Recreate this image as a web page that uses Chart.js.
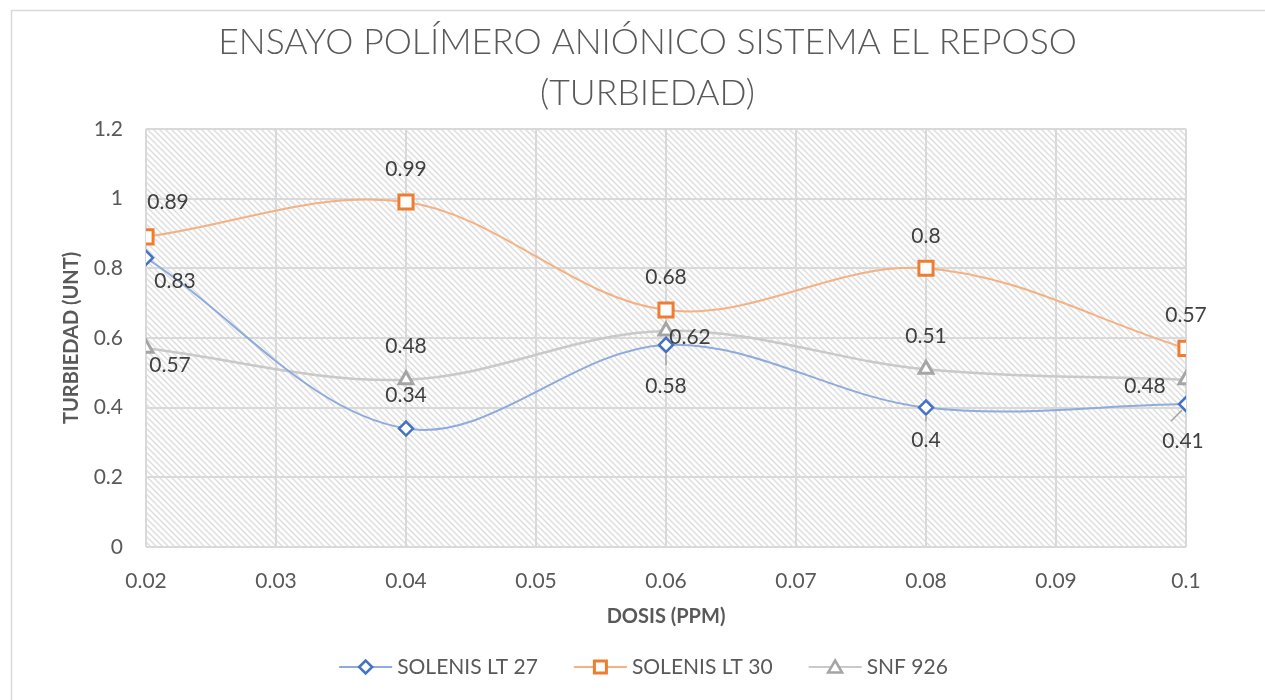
<!DOCTYPE html>
<html>
<head>
<meta charset="utf-8">
<script src="https://cdn.jsdelivr.net/npm/chart.js@4"></script>
<style>
  html, body { margin: 0; padding: 0; background: #fff; }
  #wrap { width: 1265px; height: 700px; position: relative; }
</style>
</head>
<body>
<div id="wrap"><canvas id="turbChart"></canvas></div>
<script>
// Datos
const dosis = [0.02, 0.04, 0.06, 0.08, 0.1];
const solenisLT27 = [0.83, 0.34, 0.58, 0.40, 0.41];
const solenisLT30 = [0.89, 0.99, 0.68, 0.80, 0.57];
const snf926 = [0.57, 0.48, 0.62, 0.51, 0.48];
const seriesNames = ['SOLENIS LT 27', 'SOLENIS LT 30', 'SNF 926'];
const xTicks = [0.02, 0.03, 0.04, 0.05, 0.06, 0.07, 0.08, 0.09, 0.1];

// where each data label sits relative to its point (dx, dy), and leader lines
const labelOffsets = [
    [[29, 23], [0, -33], [0, 41], [0, 33], [-3, 37]],
    [[22, -35], [0, -33], [0, -33], [0, -32], [0, -33]],
    [[24, 17], [0, -33], [24, 6], [0, -33], [-41, 7]]
];
const leaders = [
    [null, null, [0, 8, 0, 20], [0, 8, 0, 14], [-4, 6, -15, 17]],
    [null, null, null, null, null],
    [null, null, null, null, null]
];

const FONT = 'Lato, "Open Sans", sans-serif';
const GREY_TXT = '#595959';
const lineColors = ['#8faadc', '#f4b183', '#c9c9c9'];
const markColors = ['#4472c4', '#ed7d31', '#a5a5a5'];
const markStyles = ['rectRot', 'rect', 'triangle'];

function toXY(values) {
    return values.map((v, i) => ({ x: dosis[i], y: v }));
}

// hatched background for the plot area
function makeHatch() {
    const c = document.createElement('canvas');
    c.width = 6; c.height = 6;
    const g = c.getContext('2d');
    g.strokeStyle = '#dedede';
    g.lineWidth = 1.5;
    for (let k = -6; k <= 6; k += 6) {
        g.beginPath();
        g.moveTo(k - 1, -1);
        g.lineTo(k + 7, 7);
        g.stroke();
    }
    return c;
}

function drawMarker(g, style, color, cx, cy) {
    g.fillStyle = '#fff';
    g.strokeStyle = color;
    g.lineWidth = 2.5;
    g.beginPath();
    if (style === 'rectRot') {
        g.moveTo(cx - 6.5, cy); g.lineTo(cx, cy - 6.5); g.lineTo(cx + 6.5, cy); g.lineTo(cx, cy + 6.5); g.closePath();
    } else if (style === 'rect') {
        g.lineWidth = 3;
        g.rect(cx - 6, cy - 6, 12, 12);
    } else {
        g.moveTo(cx, cy - 6.5); g.lineTo(cx + 7, cy + 5.5); g.lineTo(cx - 7, cy + 5.5); g.closePath();
    }
    g.fill(); g.stroke();
}

const framePlugin = {
    id: 'frame',
    beforeDraw(chart) {
        const { ctx, chartArea: a } = chart;
        ctx.save();
        ctx.fillStyle = '#fff';
        ctx.fillRect(0, 0, chart.width, chart.height);
        ctx.strokeStyle = '#d9d9d9';
        ctx.lineWidth = 1.5;
        ctx.strokeRect(11.5, 10.5, 1400, 900);
        ctx.fillStyle = ctx.createPattern(makeHatch(), 'repeat');
        ctx.fillRect(a.left, a.top, a.right - a.left, a.bottom - a.top);
        ctx.restore();
    },
    // legend with line + marker, centred under the plot like the original
    afterDraw(chart) {
        const ctx = chart.ctx;
        ctx.save();
        ctx.font = '21px ' + FONT;
        const widths = seriesNames.map(n => 53 + 5 + ctx.measureText(n).width);
        const total = widths.reduce((s, w) => s + w, 0) + 36 * (seriesNames.length - 1);
        let x = 643.5 - total / 2;
        const y = 667;
        seriesNames.forEach((name, i) => {
            ctx.strokeStyle = lineColors[i];
            ctx.lineWidth = 2;
            ctx.beginPath(); ctx.moveTo(x, y); ctx.lineTo(x + 53, y); ctx.stroke();
            drawMarker(ctx, markStyles[i], markColors[i], x + 26.5, y);
            ctx.fillStyle = GREY_TXT;
            ctx.textAlign = 'left';
            ctx.textBaseline = 'middle';
            ctx.fillText(name, x + 58, y);
            x += widths[i] + 36;
        });
        ctx.restore();
    }
};

const labelPlugin = {
    id: 'pointLabels',
    afterDatasetsDraw(chart) {
        const ctx = chart.ctx;
        ctx.save();
        ctx.font = '21px ' + FONT;
        ctx.fillStyle = '#404040';
        ctx.textAlign = 'center';
        ctx.textBaseline = 'middle';
        chart.data.datasets.forEach((ds, i) => {
            chart.getDatasetMeta(i).data.forEach((pt, j) => {
                const lead = leaders[i][j];
                if (lead) {
                    ctx.strokeStyle = '#a6a6a6';
                    ctx.lineWidth = 1.5;
                    ctx.beginPath();
                    ctx.moveTo(pt.x + lead[0], pt.y + lead[1]);
                    ctx.lineTo(pt.x + lead[2], pt.y + lead[3]);
                    ctx.stroke();
                }
                const off = labelOffsets[i][j];
                ctx.fillText(String(ds.data[j].y), pt.x + off[0], pt.y + off[1]);
            });
        });
        ctx.restore();
    }
};

const series = [solenisLT27, solenisLT30, snf926];
const radii = [7, 10, 8];
const borders = [2.5, 3, 3];

const ctx = document.getElementById('turbChart').getContext('2d');
const turbChart = new Chart(ctx, {
    type: 'line',
    data: {
        datasets: series.map((vals, i) => ({
            label: seriesNames[i],
            data: toXY(vals),
            borderColor: lineColors[i],
            borderWidth: i === 2 ? 2.5 : 2,
            pointStyle: markStyles[i],
            pointRadius: radii[i],
            pointBorderWidth: borders[i],
            pointBorderColor: markColors[i],
            pointBackgroundColor: '#fff'
        }))
    },
    options: {
        responsive: true,
        maintainAspectRatio: false,
        animation: false,
        layout: { padding: { top: 0, left: 30, right: 0, bottom: 52 } },
        elements: { line: { tension: 0.35 } },
        scales: {
            x: {
                type: 'linear',
                min: 0.02,
                max: 0.1,
                afterFit: s => { s.height = 101; },
                afterBuildTicks: s => { s.ticks = xTicks.map(v => ({ value: v })); },
                ticks: {
                    callback: v => String(Math.round(v * 100) / 100),
                    color: GREY_TXT,
                    font: { family: FONT, size: 21 },
                    padding: 22,
                    maxRotation: 0
                },
                grid: { color: '#d9d9d9', lineWidth: 2, drawTicks: false },
                border: { display: false },
                title: {
                    display: true,
                    text: 'DOSIS (PPM)',
                    color: GREY_TXT,
                    font: { family: FONT, size: 20, weight: 'bold' },
                    padding: { top: 0, bottom: 19 }
                }
            },
            y: {
                min: 0,
                max: 1.2,
                afterFit: s => { s.width = 116; },
                ticks: {
                    stepSize: 0.2,
                    callback: v => String(Math.round(v * 10) / 10),
                    color: GREY_TXT,
                    font: { family: FONT, size: 21 },
                    padding: 23
                },
                grid: { color: '#d9d9d9', lineWidth: 2, drawTicks: false },
                border: { display: false },
                title: {
                    display: true,
                    text: 'TURBIEDAD (UNT)',
                    color: GREY_TXT,
                    font: { family: FONT, size: 20, weight: 'bold' },
                    padding: { top: 30, bottom: 0 }
                }
            },
            // empty right-hand axis that only keeps the right margin
            yRight: {
                position: 'right',
                display: true,
                afterFit: s => { s.width = 79; },
                ticks: { display: false },
                grid: { display: false, drawOnChartArea: false },
                border: { display: false }
            }
        },
        plugins: {
            title: {
                display: true,
                text: ['ENSAYO POLÍMERO ANIÓNICO SISTEMA EL REPOSO', '(TURBIEDAD)'],
                color: GREY_TXT,
                font: { family: FONT, size: 35.6, weight: 300, lineHeight: 1.43 },
                padding: { top: 17, bottom: 10 }
            },
            legend: { display: false },
            tooltip: { enabled: false }
        }
    },
    plugins: [framePlugin, labelPlugin]
});
</script>
</body>
</html>
